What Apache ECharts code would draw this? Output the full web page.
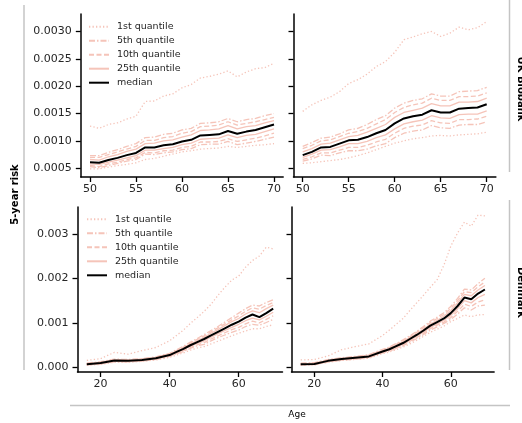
<!DOCTYPE html>
<html><head><meta charset="utf-8">
<script src="https://cdn.jsdelivr.net/npm/echarts@6/dist/echarts.min.js"></script>
<style>html,body{margin:0;padding:0;background:#fff}#c{width:522px;height:423px}</style>
</head><body><div id="c"></div>
<script>
// Ages (x values)
const topAges = [50,51,52,53,54,55,56,57,58,59,60,61,62,63,64,65,66,67,68,69,70];
const botAges = [16,20,24,28,32,36,40,42,44,46,48,50,52,54,56,58,60,62,64,66,68,70];

// Values are 5-year risk × 1000
// UK Biobank, left panel
const ukL_q1  = [1.27,1.23,1.30,1.33,1.40,1.45,1.72,1.73,1.82,1.86,1.97,2.03,2.15,2.18,2.22,2.28,2.17,2.26,2.32,2.34,2.42];
const ukL_q5  = [0.73,0.73,0.79,0.84,0.90,0.95,1.06,1.07,1.12,1.14,1.20,1.23,1.32,1.33,1.35,1.41,1.35,1.39,1.41,1.46,1.50];
const ukL_q10 = [0.70,0.70,0.75,0.80,0.85,0.90,1.01,1.01,1.06,1.08,1.14,1.17,1.26,1.27,1.29,1.35,1.29,1.32,1.35,1.39,1.43];
const ukL_q25 = [0.66,0.65,0.71,0.75,0.81,0.85,0.95,0.96,1.00,1.02,1.07,1.11,1.19,1.20,1.22,1.28,1.22,1.26,1.28,1.33,1.37];
const ukL_med = [0.61,0.60,0.65,0.69,0.74,0.78,0.88,0.88,0.92,0.94,0.99,1.02,1.10,1.11,1.12,1.18,1.13,1.17,1.20,1.25,1.30];
const ukL_q75 = [0.58,0.57,0.61,0.65,0.69,0.73,0.83,0.83,0.86,0.88,0.93,0.96,1.03,1.04,1.05,1.11,1.06,1.10,1.12,1.17,1.22];
const ukL_q90 = [0.55,0.53,0.58,0.61,0.66,0.69,0.79,0.78,0.82,0.83,0.88,0.90,0.98,0.98,0.99,1.04,0.99,1.02,1.05,1.09,1.14];
const ukL_q95 = [0.53,0.51,0.55,0.59,0.63,0.66,0.76,0.75,0.78,0.80,0.84,0.86,0.93,0.94,0.94,0.99,0.93,0.96,0.99,1.03,1.07];
const ukL_q99 = [0.49,0.49,0.52,0.55,0.57,0.60,0.66,0.68,0.72,0.76,0.80,0.82,0.85,0.86,0.87,0.90,0.88,0.90,0.92,0.93,0.95];

// UK Biobank, right panel
const ukR_q1  = [1.54,1.66,1.74,1.80,1.90,2.05,2.12,2.22,2.36,2.45,2.62,2.85,2.90,2.96,3.00,2.91,2.97,3.08,3.03,3.07,3.18];
const ukR_q5  = [0.90,0.97,1.05,1.07,1.13,1.20,1.23,1.30,1.39,1.46,1.60,1.69,1.74,1.77,1.86,1.82,1.82,1.90,1.91,1.92,1.98];
const ukR_q10 = [0.86,0.92,1.00,1.02,1.08,1.14,1.17,1.23,1.31,1.39,1.52,1.61,1.66,1.69,1.78,1.74,1.74,1.81,1.81,1.82,1.88];
const ukR_q25 = [0.80,0.86,0.94,0.96,1.02,1.08,1.10,1.16,1.23,1.30,1.43,1.52,1.56,1.60,1.68,1.64,1.64,1.71,1.71,1.72,1.78];
const ukR_med = [0.74,0.80,0.88,0.89,0.95,1.01,1.02,1.07,1.14,1.20,1.32,1.41,1.45,1.48,1.56,1.52,1.52,1.59,1.60,1.61,1.67];
const ukR_q75 = [0.70,0.76,0.83,0.84,0.89,0.95,0.95,0.99,1.06,1.11,1.22,1.31,1.35,1.38,1.46,1.42,1.41,1.48,1.49,1.49,1.55];
const ukR_q90 = [0.66,0.71,0.78,0.78,0.83,0.88,0.88,0.92,0.98,1.03,1.14,1.23,1.27,1.29,1.37,1.33,1.32,1.39,1.39,1.40,1.45];
const ukR_q95 = [0.63,0.67,0.74,0.73,0.78,0.82,0.82,0.85,0.91,0.95,1.06,1.14,1.18,1.20,1.28,1.24,1.23,1.29,1.30,1.30,1.35];
const ukR_q99 = [0.59,0.60,0.62,0.64,0.66,0.69,0.73,0.78,0.84,0.90,0.96,1.00,1.04,1.06,1.09,1.10,1.09,1.11,1.12,1.13,1.16];

// Denmark, left panel
const dkL_q1  = [0.16,0.20,0.34,0.30,0.38,0.45,0.60,0.72,0.84,0.99,1.12,1.26,1.42,1.62,1.80,1.96,2.05,2.25,2.40,2.50,2.70,2.66];
const dkL_q5  = [0.10,0.13,0.19,0.18,0.20,0.24,0.32,0.40,0.48,0.57,0.65,0.74,0.83,0.92,1.02,1.12,1.22,1.32,1.40,1.38,1.46,1.52];
const dkL_q10 = [0.09,0.12,0.18,0.17,0.19,0.23,0.31,0.38,0.46,0.55,0.63,0.71,0.80,0.89,0.98,1.07,1.16,1.26,1.34,1.31,1.39,1.46];
const dkL_q25 = [0.085,0.11,0.17,0.16,0.18,0.22,0.30,0.37,0.44,0.53,0.60,0.68,0.77,0.85,0.94,1.03,1.10,1.20,1.27,1.23,1.32,1.40];
const dkL_med = [0.076,0.10,0.16,0.15,0.17,0.21,0.28,0.35,0.42,0.50,0.57,0.64,0.72,0.80,0.88,0.96,1.03,1.12,1.19,1.13,1.22,1.32];
const dkL_q75 = [0.07,0.09,0.15,0.14,0.16,0.20,0.27,0.33,0.40,0.48,0.54,0.60,0.68,0.76,0.83,0.90,0.97,1.05,1.11,1.07,1.15,1.24];
const dkL_q90 = [0.065,0.085,0.14,0.13,0.15,0.19,0.26,0.32,0.38,0.45,0.51,0.56,0.64,0.71,0.78,0.85,0.90,0.98,1.04,1.00,1.08,1.16];
const dkL_q95 = [0.06,0.08,0.13,0.125,0.145,0.18,0.25,0.31,0.36,0.43,0.49,0.52,0.60,0.67,0.73,0.79,0.84,0.92,0.97,0.95,1.01,1.08];
const dkL_q99 = [0.055,0.07,0.12,0.12,0.14,0.17,0.23,0.28,0.33,0.39,0.44,0.47,0.53,0.59,0.65,0.71,0.77,0.82,0.87,0.87,0.92,0.96];

// Denmark, right panel
const dkR_q1  = [0.17,0.18,0.26,0.40,0.47,0.53,0.72,0.84,0.97,1.10,1.28,1.45,1.62,1.80,1.97,2.30,2.72,3.02,3.26,3.17,3.42,3.40];
const dkR_q5  = [0.10,0.11,0.18,0.22,0.25,0.29,0.41,0.46,0.54,0.62,0.71,0.81,0.92,1.04,1.13,1.23,1.37,1.55,1.76,1.74,1.88,2.00];
const dkR_q10 = [0.09,0.10,0.17,0.21,0.24,0.28,0.39,0.45,0.52,0.60,0.69,0.79,0.89,1.01,1.10,1.19,1.33,1.50,1.70,1.68,1.81,1.92];
const dkR_q25 = [0.085,0.09,0.16,0.20,0.23,0.26,0.38,0.43,0.50,0.58,0.67,0.76,0.86,0.97,1.06,1.15,1.28,1.45,1.64,1.61,1.74,1.84];
const dkR_med = [0.076,0.08,0.15,0.19,0.22,0.25,0.36,0.41,0.48,0.55,0.64,0.73,0.83,0.94,1.02,1.10,1.22,1.38,1.57,1.53,1.66,1.75];
const dkR_q75 = [0.07,0.075,0.14,0.18,0.21,0.24,0.35,0.40,0.46,0.53,0.61,0.70,0.80,0.90,0.98,1.06,1.17,1.32,1.50,1.45,1.57,1.64];
const dkR_q90 = [0.065,0.07,0.13,0.17,0.20,0.23,0.34,0.38,0.44,0.51,0.59,0.67,0.77,0.87,0.95,1.02,1.12,1.26,1.42,1.37,1.47,1.52];
const dkR_q95 = [0.06,0.065,0.125,0.165,0.19,0.22,0.33,0.37,0.43,0.49,0.57,0.65,0.74,0.84,0.91,0.99,1.08,1.20,1.34,1.29,1.38,1.40];
const dkR_q99 = [0.055,0.06,0.12,0.16,0.18,0.21,0.31,0.35,0.40,0.46,0.53,0.61,0.70,0.79,0.86,0.93,1.03,1.10,1.18,1.14,1.18,1.19];

const legendNames = ['1st quantile','5th quantile','10th quantile','25th quantile','median'];
const topYTicks = [0.5,1.0,1.5,2.0,2.5,3.0];
const botYTicks = [0,1,2,3];
const topXTicks = [50,55,60,65,70];
const botXTicks = [20,40,60];

const PINK = '#f5c4b9';
const FONT = '"DejaVu Sans", sans-serif';
const dash = {
  '1st quantile': [1.3,2.2],
  '5th quantile': [6,2,1.5,2],
  '10th quantile': [5,2.5],
  '25th quantile': 'solid'
};

function panelSeries(idx, ages, lines) {
  return lines.map(([name, arr]) => {
    const isMed = name === 'median';
    return {
      name, type: 'line', xAxisIndex: idx, yAxisIndex: idx,
      data: ages.map((a, i) => [a, arr[i]]),
      symbol: 'none', silent: true, z: isMed ? 5 : 2,
      lineStyle: isMed ? {color: '#000', width: 2, type: 'solid'}
                       : {color: PINK, width: 1.3, type: dash[name]},
      itemStyle: {color: isMed ? '#000' : PINK}
    };
  });
}
function quantLines(q1,q5,q10,q25,med,q75,q90,q95,q99){
  return [['1st quantile',q1],['5th quantile',q5],['10th quantile',q10],['25th quantile',q25],
          ['25th quantile',q75],['10th quantile',q90],['5th quantile',q95],['1st quantile',q99],['median',med]];
}

const series = [].concat(
  panelSeries(0, topAges, quantLines(ukL_q1,ukL_q5,ukL_q10,ukL_q25,ukL_med,ukL_q75,ukL_q90,ukL_q95,ukL_q99)),
  panelSeries(1, topAges, quantLines(ukR_q1,ukR_q5,ukR_q10,ukR_q25,ukR_med,ukR_q75,ukR_q90,ukR_q95,ukR_q99)),
  panelSeries(2, botAges, quantLines(dkL_q1,dkL_q5,dkL_q10,dkL_q25,dkL_med,dkL_q75,dkL_q90,dkL_q95,dkL_q99)),
  panelSeries(3, botAges, quantLines(dkR_q1,dkR_q5,dkR_q10,dkR_q25,dkR_med,dkR_q75,dkR_q90,dkR_q95,dkR_q99))
);

const axisLine = {show: true, onZero: false, lineStyle: {color: '#000', width: 1.5}};
const axisTickBase = {show: true, inside: false, length: 5, lineStyle: {color: '#000', width: 1.3}};
const labelBase = {color: '#262626', fontSize: 11, fontFamily: FONT};

function xAx(idx, min, max, ticks) {
  return {type: 'value', gridIndex: idx, min, max, axisLine,
    axisTick: Object.assign({customValues: ticks}, axisTickBase),
    axisLabel: Object.assign({customValues: ticks, margin: 7}, labelBase),
    splitLine: {show: false}};
}
function yAx(idx, min, max, ticks, showLabel, dec) {
  return {type: 'value', gridIndex: idx, min, max, axisLine,
    axisTick: Object.assign({customValues: ticks}, axisTickBase),
    axisLabel: Object.assign({show: showLabel, customValues: ticks, margin: 9,
      formatter: v => (v / 1000).toFixed(dec)}, labelBase),
    splitLine: {show: false}};
}

const legendBase = {orient: 'vertical', itemWidth: 20, itemHeight: 10, itemGap: 4, padding: 0,
  data: legendNames, selectedMode: false,
  itemStyle: {opacity: 0},
  textStyle: {fontSize: 9.5, fontFamily: FONT, color: '#262626', lineHeight: 10, padding: [0,0,0,3]}};

const GRAY = '#c4c4c4';
const chart = echarts.init(document.getElementById('c'), null, {renderer: 'canvas'});
chart.setOption({
  animation: false,
  backgroundColor: '#fff',
  grid: [
    {left: 80.8, top: 14, width: 202.4, height: 163},
    {left: 293.5, top: 14, width: 202.4, height: 163},
    {left: 77.5, top: 207, width: 205, height: 165},
    {left: 291.5, top: 207, width: 202.6, height: 165}
  ],
  xAxis: [xAx(0, 49, 71, topXTicks), xAx(1, 49, 71, topXTicks), xAx(2, 13.3, 72.7, botXTicks), xAx(3, 13.3, 72.7, botXTicks)],
  yAxis: [yAx(0, 0.34, 3.32, topYTicks, true, 4), yAx(1, 0.34, 3.32, topYTicks, false, 4),
          yAx(2, -0.1, 3.6, botYTicks, true, 3), yAx(3, -0.1, 3.6, botYTicks, false, 3)],
  legend: [Object.assign({left: 88, top: 21.7}, legendBase), Object.assign({left: 86, top: 214.3}, legendBase)],
  series,
  graphic: [
    {type: 'line', shape: {x1: 24, y1: 5, x2: 24, y2: 370}, style: {stroke: GRAY, lineWidth: 1.5}, silent: true},
    {type: 'line', shape: {x1: 70, y1: 405.5, x2: 510, y2: 405.5}, style: {stroke: GRAY, lineWidth: 1.5}, silent: true},
    {type: 'line', shape: {x1: 509.5, y1: 0, x2: 509.5, y2: 172}, style: {stroke: GRAY, lineWidth: 1.5}, silent: true},
    {type: 'line', shape: {x1: 509.5, y1: 200, x2: 509.5, y2: 370}, style: {stroke: GRAY, lineWidth: 1.5}, silent: true},
    {type: 'text', x: 15.5, y: 194.5, rotation: Math.PI / 2,
     style: {text: '5-year risk', font: 'bold 10px ' + FONT, fill: '#000', align: 'center', verticalAlign: 'middle'}},
    {type: 'text', x: 521, y: 89, rotation: -Math.PI / 2,
     style: {text: 'UK Biobank', font: 'bold 10px ' + FONT, fill: '#000', align: 'center', verticalAlign: 'middle'}},
    {type: 'text', x: 521, y: 292.5, rotation: -Math.PI / 2,
     style: {text: 'Denmark', font: 'bold 10px ' + FONT, fill: '#000', align: 'center', verticalAlign: 'middle'}},
    {type: 'text', x: 297, y: 414.5,
     style: {text: 'Age', font: '9px ' + FONT, fill: '#000', align: 'center', verticalAlign: 'middle'}}
  ]
});
</script></body></html>
